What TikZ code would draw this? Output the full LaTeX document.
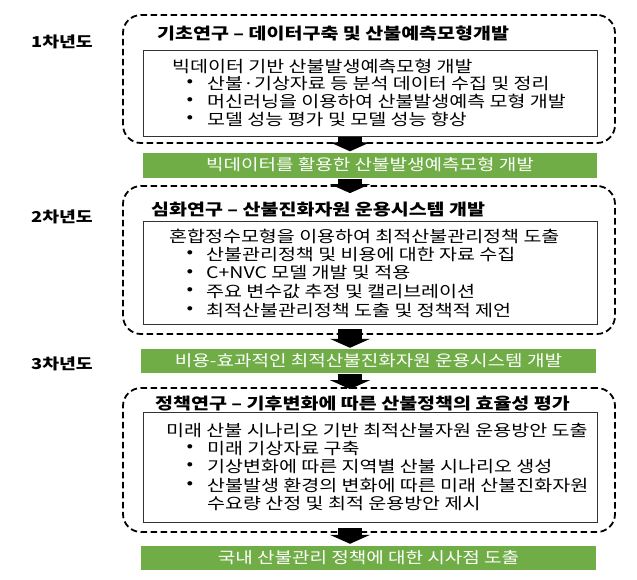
\documentclass[tikz,border=0pt]{standalone}
\usepackage{fontspec}
\setmainfont{Noto Sans CJK KR}[FakeStretch=1.22]
\usetikzlibrary{arrows.meta,calc}
\definecolor{grn}{RGB}{112,173,71}
\tikzset{
  dashbox/.style={draw=black, line width=1.8pt, dash pattern=on 6.5pt off 3.5pt, rounded corners=18pt, inner sep=0},
  innerbox/.style={draw=black!80, line width=0.9pt, inner sep=0},
  greenbar/.style={fill=grn, text=white, inner sep=0, font=\fontsize{15.6}{17}\selectfont},
  yearlbl/.style={inner sep=0, font=\bfseries\fontsize{15}{17}\selectfont},
  ttl/.style={anchor=west, inner sep=0, font=\bfseries\fontsize{16}{18}\selectfont},
  txt/.style={anchor=west, inner sep=0, font=\fontsize{16}{18}\selectfont},
  bul/.style={anchor=center, inner sep=0, font=\fontsize{16}{18}\selectfont},
  blockarr/.style={line width=24pt, -{Triangle[length=9pt,width=40pt]}},
}
\begin{document}
\begin{tikzpicture}[x=1pt,y=-1pt]
\useasboundingbox (0,0) rectangle (637,579);
\coordinate (ax) at (350,0);

% year labels
\node[yearlbl] (y1) at (62,42) {1차년도};
\node[yearlbl] (y2) at (62,217) {2차년도};
\node[yearlbl] (y3) at (62,364) {3차년도};

% ---- block 1
\node[dashbox, minimum width=492pt, minimum height=128pt] (box1) at (369,79) {};
\node[ttl] (t1) at (157,33) {기초연구 – 데이터구축 및 산불예측모형개발};
\node[innerbox, minimum width=454pt, minimum height=86pt] (in1) at (370,93) {};
\node[txt] (h1) at (172,66) {빅데이터 기반 산불발생예측모형 개발};
\node[bul] (b11) at (190,83.5) {•};
\node[txt] (l11) at (207,83.5) {산불·기상자료 등 분석 데이터 수집 및 정리};
\node[bul] (b12) at (190,101.5) {•};
\node[txt] (l12) at (207,101.5) {머신러닝을 이용하여 산불발생예측 모형 개발};
\node[bul] (b13) at (190,119.5) {•};
\node[txt] (l13) at (207,119.5) {모델 성능 평가 및 모델 성능 향상};
\node[greenbar, minimum width=454pt, minimum height=25pt] (g1) at (370,165) {빅데이터를 활용한 산불발생예측모형 개발};

% ---- block 2
\node[dashbox, minimum width=492pt, minimum height=148pt] (box2) at (369,260) {};
\node[ttl] (t2) at (151,210) {심화연구 – 산불진화자원 운용시스템 개발};
\node[innerbox, minimum width=454pt, minimum height=103pt] (in2) at (370,272.5) {};
\node[txt] (h2) at (169,236) {혼합정수모형을 이용하여 최적산불관리정책 도출};
\node[bul] (b21) at (190,254.5) {•};
\node[txt] (l21) at (206,254.5) {산불관리정책 및 비용에 대한 자료 수집};
\node[bul] (b22) at (190,273) {•};
\node[txt] (l22) at (206,273) {C+NVC 모델 개발 및 적용};
\node[bul] (b23) at (190,291.5) {•};
\node[txt] (l23) at (206,291.5) {주요 변수값 추정 및 캘리브레이션};
\node[bul] (b24) at (190,310) {•};
\node[txt] (l24) at (206,310) {최적산불관리정책 도출 및 정책적 제언};
\node[greenbar, minimum width=455pt, minimum height=24pt] (g2) at (368.5,361) {비용-효과적인 최적산불진화자원 운용시스템 개발};

% ---- block 3
\node[dashbox, minimum width=492pt, minimum height=144pt] (box3) at (369,460) {};
\node[ttl] (t3) at (155,403) {정책연구 – 기후변화에 따른 산불정책의 효율성 평가};
\node[innerbox, minimum width=454pt, minimum height=110pt] (in3) at (370,467) {};
\node[txt] (h3) at (166,430) {미래 산불 시나리오 기반 최적산불자원 운용방안 도출};
\node[bul] (b31) at (190,448) {•};
\node[txt] (l31) at (207,448) {미래 기상자료 구축};
\node[bul] (b32) at (190,466.5) {•};
\node[txt] (l32) at (207,466.5) {기상변화에 따른 지역별 산불 시나리오 생성};
\node[bul] (b33) at (190,485) {•};
\node[txt] (l33) at (207,485) {산불발생 환경의 변화에 따른 미래 산불진화자원};
\node[txt] (l34) at (207,503.5) {수요량 산정 및 최적 운용방안 제시};
\node[greenbar, minimum width=455pt, minimum height=24pt] (g3) at (368.5,558) {국내 산불관리 정책에 대한 시사점 도출};

% ---- block arrows
\draw[blockarr] ($(box1.south -| ax)+(0,-7)$) -- ($(g1.north -| ax)+(0,-1)$);
\draw[blockarr] ($(g1.south -| ax)+(0,1)$) -- ($(box2.north -| ax)+(0,8)$);
\draw[blockarr] ($(box2.south -| ax)+(0,-6)$) -- ($(g2.north -| ax)+(0,-1)$);
\draw[blockarr] ($(g2.south -| ax)+(0,1)$) -- ($(box3.north -| ax)+(0,2)$);
\draw[blockarr] ($(box3.south -| ax)+(0,-5)$) -- ($(g3.north -| ax)+(0,-2)$);
\end{tikzpicture}
\end{document}
